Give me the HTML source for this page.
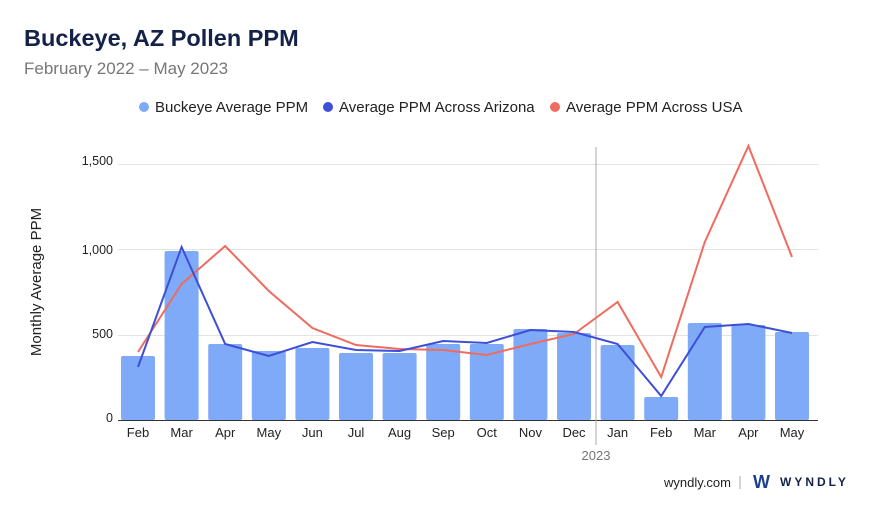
<!DOCTYPE html>
<html><head><meta charset="utf-8"><style>
body{margin:0;background:#fff;font-family:"Liberation Sans",sans-serif;}
</style></head><body>
<svg width="880" height="510" xmlns="http://www.w3.org/2000/svg" font-family="Liberation Sans, sans-serif">
<rect width="880" height="510" fill="#fff"/>
<text x="24" y="46" font-size="23.5" font-weight="bold" fill="#14224a">Buckeye, AZ Pollen PPM</text>
<text x="24" y="74" font-size="17" fill="#777">February 2022 – May 2023</text>
<circle cx="144" cy="107" r="5" fill="#7eaaf8"/><text x="155" y="112" font-size="15" fill="#222">Buckeye Average PPM</text>
<circle cx="328" cy="107" r="5" fill="#3d4fd6"/><text x="339" y="112" font-size="15" fill="#222">Average PPM Across Arizona</text>
<circle cx="555" cy="107" r="5" fill="#f06b5f"/><text x="566" y="112" font-size="15" fill="#222">Average PPM Across USA</text>
<g stroke="#e3e3e3" stroke-width="1">
<line x1="118" y1="164.5" x2="818" y2="164.5"/><line x1="118" y1="249.5" x2="818" y2="249.5"/><line x1="118" y1="335.5" x2="818" y2="335.5"/>
</g>
<line x1="118" y1="420.5" x2="818" y2="420.5" stroke="#333"/>
<g font-size="12.5" fill="#222" text-anchor="end">
<text x="113" y="165">1,500</text><text x="113" y="254">1,000</text><text x="113" y="338">500</text><text x="113" y="422">0</text>
</g>
<text transform="translate(41,282) rotate(-90)" font-size="15" fill="#222" text-anchor="middle">Monthly Average PPM</text>
<g fill="#7eaaf8">
<rect x="121" y="356" width="34" height="64" rx="2"/><rect x="164.6" y="251" width="34" height="169" rx="2"/><rect x="208.2" y="344" width="34" height="76" rx="2"/><rect x="251.8" y="351" width="34" height="69" rx="2"/><rect x="295.4" y="348" width="34" height="72" rx="2"/><rect x="339" y="353" width="34" height="67" rx="2"/><rect x="382.6" y="353" width="34" height="67" rx="2"/><rect x="426.2" y="344" width="34" height="76" rx="2"/><rect x="469.8" y="344" width="34" height="76" rx="2"/><rect x="513.4" y="329" width="34" height="91" rx="2"/><rect x="557" y="333" width="34" height="87" rx="2"/><rect x="600.6" y="345" width="34" height="75" rx="2"/><rect x="644.2" y="397" width="34" height="23" rx="2"/><rect x="687.8" y="323" width="34" height="97" rx="2"/><rect x="731.4" y="325" width="34" height="95" rx="2"/><rect x="775" y="332" width="34" height="88" rx="2"/>
</g>
<line x1="596" y1="147" x2="596" y2="445" stroke="#aaa"/>
<polyline fill="none" stroke="#f06b5f" stroke-width="2" points="138,352 181.6,284 225.2,246 268.8,291 312.4,328 356,345 399.6,349 443.2,350 486.8,355 530.4,344 574,334 617.6,302 661.2,377 704.8,242 748.4,146 792,257"/>
<polyline fill="none" stroke="#3d4fd6" stroke-width="2" points="138,367 181.6,247 225.2,344 268.8,356 312.4,342 356,350 399.6,351 443.2,341 486.8,343 530.4,330 574,332 617.6,344 661.2,396 704.8,327 748.4,324 792,333"/>
<g font-size="13" fill="#222" text-anchor="middle">
<text x="138" y="437">Feb</text><text x="181.6" y="437">Mar</text><text x="225.2" y="437">Apr</text><text x="268.8" y="437">May</text><text x="312.4" y="437">Jun</text><text x="356" y="437">Jul</text><text x="399.6" y="437">Aug</text><text x="443.2" y="437">Sep</text><text x="486.8" y="437">Oct</text><text x="530.4" y="437">Nov</text><text x="574" y="437">Dec</text><text x="617.6" y="437">Jan</text><text x="661.2" y="437">Feb</text><text x="704.8" y="437">Mar</text><text x="748.4" y="437">Apr</text><text x="792" y="437">May</text>
<text x="596" y="460" fill="#777">2023</text>
</g>
<text x="731" y="487" font-size="13" fill="#222" text-anchor="end">wyndly.com</text>
<line x1="740" y1="476" x2="740" y2="489" stroke="#aaa"/>
<text x="753" y="488" font-size="18" font-weight="bold" fill="#1d3f8f">W</text>
<text x="780" y="486" font-size="12" font-weight="bold" fill="#14224a" letter-spacing="3">WYNDLY</text>
</svg>
</body></html>
